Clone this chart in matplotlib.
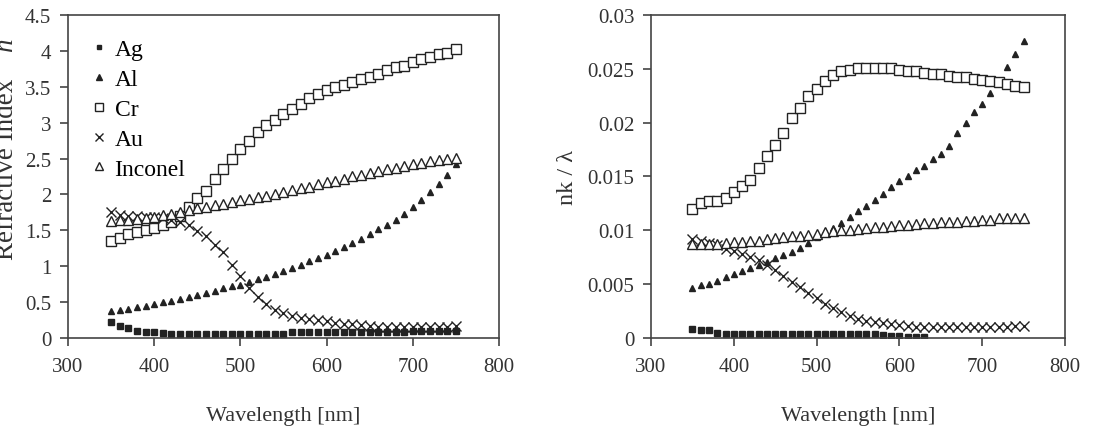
import numpy as np
import matplotlib.pyplot as plt

plt.rcParams['font.family'] = ['Liberation Serif', 'DejaVu Serif']

# data, wavelength 350..750 nm step 10
wl = [350, 360, 370, 380, 390, 400, 410, 420, 430, 440, 450, 460, 470, 480,
      490, 500, 510, 520, 530, 540, 550, 560, 570, 580, 590, 600, 610, 620,
      630, 640, 650, 660, 670, 680, 690, 700, 710, 720, 730, 740, 750]

# refractive index n
n_ag = [0.22, 0.17, 0.14, 0.10, 0.08, 0.08, 0.07, 0.06, 0.06, 0.06, 0.06, 0.06, 0.06, 0.06,
        0.06, 0.06, 0.06, 0.06, 0.06, 0.06, 0.06, 0.08, 0.08, 0.08, 0.08, 0.08, 0.08, 0.08,
        0.08, 0.08, 0.09, 0.09, 0.09, 0.09, 0.09, 0.10, 0.10, 0.10, 0.10, 0.10, 0.10]
n_al = [0.37, 0.39, 0.41, 0.43, 0.45, 0.48, 0.50, 0.52, 0.55, 0.57, 0.60, 0.63, 0.66, 0.69,
        0.72, 0.74, 0.78, 0.82, 0.85, 0.89, 0.94, 0.98, 1.02, 1.07, 1.11, 1.16, 1.21, 1.27,
        1.32, 1.38, 1.45, 1.52, 1.58, 1.65, 1.73, 1.82, 1.92, 2.03, 2.14, 2.27, 2.42]
n_cr = [1.35, 1.40, 1.45, 1.47, 1.50, 1.53, 1.57, 1.62, 1.70, 1.83, 1.95, 2.05, 2.22, 2.35,
        2.50, 2.63, 2.74, 2.87, 2.97, 3.04, 3.12, 3.19, 3.26, 3.34, 3.40, 3.46, 3.49, 3.53,
        3.57, 3.61, 3.64, 3.68, 3.73, 3.78, 3.79, 3.84, 3.88, 3.91, 3.95, 3.97, 4.02]
n_au = [1.75, 1.72, 1.70, 1.70, 1.69, 1.68, 1.67, 1.65, 1.62, 1.57, 1.49, 1.42, 1.30, 1.20,
        1.02, 0.86, 0.70, 0.57, 0.47, 0.39, 0.35, 0.31, 0.28, 0.26, 0.25, 0.23, 0.21, 0.20,
        0.19, 0.18, 0.17, 0.16, 0.16, 0.16, 0.16, 0.16, 0.16, 0.16, 0.16, 0.16, 0.17]
n_inc = [1.63, 1.64, 1.65, 1.66, 1.67, 1.69, 1.71, 1.73, 1.76, 1.79, 1.81, 1.83, 1.85, 1.87,
         1.89, 1.92, 1.94, 1.96, 1.98, 2.01, 2.04, 2.06, 2.09, 2.11, 2.14, 2.17, 2.19, 2.22,
         2.25, 2.27, 2.30, 2.32, 2.35, 2.37, 2.39, 2.42, 2.44, 2.46, 2.48, 2.49, 2.51]

# nk / lambda
nk_ag = [0.0008, 0.0007, 0.0007, 0.0005, 0.0004, 0.0004, 0.0004, 0.0004, 0.0004, 0.0004,
         0.0004, 0.0004, 0.0004, 0.0004, 0.0004, 0.0004, 0.0004, 0.0004, 0.0004, 0.0004,
         0.0004, 0.0004, 0.0004, 0.0003, 0.0002, 0.0002, 0.0001, 0.0001, 0.0001,
         np.nan, np.nan, np.nan, np.nan, np.nan, np.nan, np.nan, np.nan, np.nan, np.nan, np.nan, np.nan]
nk_al = [0.0046, 0.0049, 0.0050, 0.0053, 0.0057, 0.0059, 0.0062, 0.0065, 0.0068, 0.0071,
         0.0074, 0.0077, 0.0080, 0.0084, 0.0088, 0.0094, 0.0099, 0.0102, 0.0107, 0.0112,
         0.0118, 0.0123, 0.0128, 0.0134, 0.0140, 0.0146, 0.0150, 0.0156, 0.0160, 0.0166,
         0.0171, 0.0178, 0.0190, 0.0200, 0.0210, 0.0217, 0.0228, 0.0240, 0.0252, 0.0264, 0.0276]
nk_cr = [0.0120, 0.0125, 0.0127, 0.0127, 0.0130, 0.0136, 0.0141, 0.0147, 0.0158, 0.0169,
         0.0179, 0.0190, 0.0204, 0.0214, 0.0225, 0.0231, 0.0239, 0.0244, 0.0248, 0.0249,
         0.0251, 0.0251, 0.0251, 0.0251, 0.0251, 0.0249, 0.0248, 0.0248, 0.0246, 0.0245,
         0.0245, 0.0243, 0.0242, 0.0242, 0.0241, 0.0240, 0.0239, 0.0238, 0.0236, 0.0234, 0.0233]
nk_au = [0.0092, 0.0090, 0.0088, 0.0086, 0.0083, 0.0081, 0.0078, 0.0075, 0.0072, 0.0068,
         0.0063, 0.0058, 0.0052, 0.0047, 0.0042, 0.0037, 0.0032, 0.0028, 0.0024, 0.0020,
         0.0018, 0.0016, 0.0015, 0.0014, 0.0013, 0.0012, 0.0011, 0.0010, 0.0010, 0.0010,
         0.0010, 0.0010, 0.0010, 0.0010, 0.0010, 0.0010, 0.0010, 0.0010, 0.0010, 0.0011, 0.0011]
nk_inc = [0.0087, 0.0087, 0.0087, 0.0087, 0.0088, 0.0089, 0.0089, 0.0090, 0.0090, 0.0092,
          0.0093, 0.0094, 0.0095, 0.0095, 0.0096, 0.0097, 0.0098, 0.0099, 0.0100, 0.0100,
          0.0101, 0.0102, 0.0103, 0.0103, 0.0104, 0.0105, 0.0105, 0.0106, 0.0107, 0.0107,
          0.0108, 0.0108, 0.0108, 0.0109, 0.0109, 0.0110, 0.0110, 0.0111, 0.0111, 0.0111, 0.0111]

labels = ['Ag', 'Al', 'Cr', 'Au', 'Inconel']
dark = '#222222'

# marker style per series
styles = [
    dict(marker='s', ms=4, mfc=dark, mec=dark),
    dict(marker='^', ms=5, mfc=dark, mec=dark),
    dict(marker='s', ms=6.5, mfc='white', mec=dark, mew=1.0),
    dict(marker='x', ms=6.5, mec=dark, mew=1.0),
    dict(marker='^', ms=7, mfc='white', mec=dark, mew=1.0),
]

fig = plt.figure(figsize=(10.93, 4.39), dpi=100)
ax1 = fig.add_axes([0.0622, 0.2278, 0.3943, 0.7358])
ax2 = fig.add_axes([0.5956, 0.2278, 0.3788, 0.7358])

for ys, lab, st in zip([n_ag, n_al, n_cr, n_au, n_inc], labels, styles):
    ax1.plot(wl, ys, ls='none', label=lab, **st)
for ys, lab, st in zip([nk_ag, nk_al, nk_cr, nk_au, nk_inc], labels, styles):
    ax2.plot(wl, ys, ls='none', label=lab, **st)

for ax in (ax1, ax2):
    ax.set_xlim(300, 800)
    ax.set_xticks([300, 400, 500, 600, 700, 800])
    ax.tick_params(direction='out', length=6, width=1.2, color='#444444',
                   labelsize=15, labelcolor='#333333', top=False, right=False, pad=6)
    ax.tick_params(axis='x', pad=8)
    for s in ax.spines.values():
        s.set_color('#444444')
        s.set_linewidth(1.2)
    ax.set_xlabel('Wavelength [nm]', fontsize=16, color='#333333', labelpad=21)

ax1.set_ylim(0, 4.5)
ax1.set_yticks([0, 0.5, 1, 1.5, 2, 2.5, 3, 3.5, 4, 4.5])
ax1.set_yticklabels(['0', '0.5', '1', '1.5', '2', '2.5', '3', '3.5', '4', '4.5'])
# y label sits partly outside the figure, as in the original
fig.text(0.0055, 1 - 169 / 439, 'Refractive Index', rotation=90,
         ha='center', va='center', fontsize=19.5, color='#333333')
fig.text(0.0055, 1 - 45 / 439, 'n', rotation=90, style='italic',
         ha='center', va='center', fontsize=19.5, color='#333333')

ax2.set_ylim(0, 0.03)
ax2.set_yticks([0, 0.005, 0.01, 0.015, 0.02, 0.025, 0.03])
ax2.set_yticklabels(['0', '0.005', '0.01', '0.015', '0.02', '0.025', '0.03'])
ax2.set_ylabel('nk / \u03bb', fontsize=17.5, color='#333333', labelpad=7)

ax1.legend(loc='upper left', bbox_to_anchor=(0.034, 0.955), frameon=False, fontsize=17,
           handlelength=0.6, handletextpad=0.35, labelspacing=0.35, markerscale=0.85,
           borderaxespad=0)

fig.savefig('out.png', dpi=100)
